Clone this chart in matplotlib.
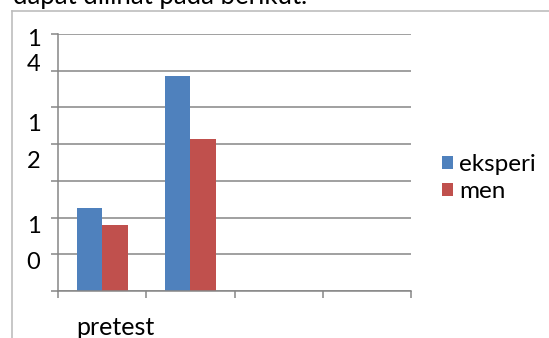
import numpy as np
import matplotlib
matplotlib.use("Agg")
import matplotlib.pyplot as plt

plt.rcParams['font.family'] = ['Lato', 'DejaVu Sans']

# chart data
categories = ["pretest", "", "", ""]
eksperimen = [45, 117, np.nan, np.nan]
kontrol = [36, 83, np.nan, np.nan]
series_labels = ["eksperi", "men"]
# wrapped y tick labels, one glyph per line as they appear
ytick_chars = ["1", "4", "1", "2", "1", "0"]
ytick_pos = [137, 123.2, 90.8, 70.8, 35.4, 15.5]
caption = "dapat dilihat pada berikut."

W, H = 549, 338
fig = plt.figure(figsize=(W / 100, H / 100), dpi=100)

# outer chart frame (clipped screenshot: only top and left edges show)
fig.add_artist(plt.Line2D([12 / W, 1], [1 - 10.5 / H, 1 - 10.5 / H], color="#bdbdbd", lw=1.2))
fig.add_artist(plt.Line2D([12 / W, 12 / W], [0, 1 - 10.5 / H], color="#bdbdbd", lw=1.2))
fig.text(13 / W, 1 - 4 / H, caption, fontsize=18.5, va="baseline", ha="left")

ax = fig.add_axes([58 / W, (H - 291) / H, (411 - 58) / W, (291 - 34) / H])
x = np.arange(len(categories))
bw = 0.29
b1 = ax.bar(x - bw / 2, eksperimen, bw, color="#4f81bd")
b2 = ax.bar(x + bw / 2, kontrol, bw, color="#c0504d")

ax.set_xlim(-0.5, len(categories) - 0.5)
ax.set_ylim(0, 140)
ax.set_yticks(np.arange(0, 141, 20))
ax.set_yticklabels([])
ax.set_xticks(np.arange(len(categories) + 1) - 0.5)
ax.set_xticklabels([])
ax.grid(axis="y", color="#868686", lw=1.1)
ax.set_axisbelow(True)
for s in ["top", "right"]:
    ax.spines[s].set_visible(False)
for s in ["left", "bottom"]:
    ax.spines[s].set_color("#868686")
    ax.spines[s].set_linewidth(1.1)
ax.tick_params(axis="both", color="#868686", length=5, width=1.1)

for ch, yp in zip(ytick_chars, ytick_pos):
    ax.text(-0.05, yp, ch, transform=ax.get_yaxis_transform(), ha="right",
            va="center", fontsize=17)

# category label (only the first one shows in the clipped picture)
ax.text(0.15, -24, categories[0], ha="center", va="baseline", fontsize=18, clip_on=False)

leg = fig.legend([b1, b2], series_labels, loc="center left",
                 bbox_to_anchor=(430 / W, 1 - 178 / H), frameon=False,
                 fontsize=17.5, handlelength=0.45, handleheight=0.45,
                 handletextpad=0.25, labelspacing=0.25, borderpad=0)

fig.savefig("out.png", dpi=100)
